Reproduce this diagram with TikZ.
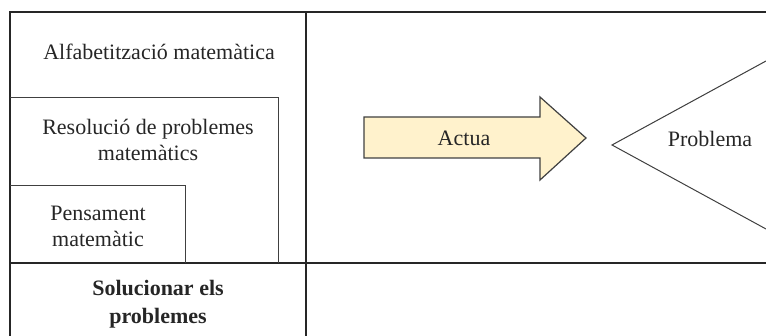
\documentclass[tikz,border=0pt]{standalone}
\usepackage{fontspec}
\setmainfont{Liberation Serif}
\usetikzlibrary{positioning}
\definecolor{actuafill}{HTML}{FFF2CC}
\tikzset{
  frame/.style={draw=black!85, line width=0.75pt},
  inner/.style={draw=black!75, line width=0.5pt},
  lbl/.style={align=center, font=\fontsize{11}{13}\selectfont, inner sep=0pt, text=black!85},
  actuaarrow/.style={draw=black!75, line width=0.6pt, fill=actuafill}
}
\begin{document}
\begin{tikzpicture}[x=0.5pt, y=-0.5pt]
\useasboundingbox (0,0) rectangle (766,336);
% marc de la taula
\draw[frame] (10,336) -- (10,12) -- (766,12);
\draw[frame] (306,12) -- (306,336);
\draw[frame] (10,263) -- (766,263);
% quadres niats
\draw[inner] (10,98) -- (278,98) -- (278,263);
\draw[inner] (10,186) -- (185,186) -- (185,263);
% textos
\node[lbl] (alfa) at (159,52) {Alfabetització matemàtica};
\node[lbl] (resol) at (148,140) {Resolució de problemes\\matemàtics};
\node[lbl] (pens) at (98,226) {Pensament\\matemàtic};
\node[lbl, font=\fontsize{11}{14}\selectfont\bfseries] (sol) at (158,304) {Solucionar els\\problemes};
% fletxa
\draw[actuaarrow] (364,117) -- (540,117) -- (540,97) -- (586,138) -- (540,180) -- (540,158) -- (364,158) -- cycle;
\node[lbl] (actua) at (464,138) {Actua};
% triangle
\coordinate (vtx) at (612,145);
\draw[inner] (766,61) -- (vtx) -- (766,229);
\node[lbl] (prob) at (710,139) {Problema};
\end{tikzpicture}
\end{document}
